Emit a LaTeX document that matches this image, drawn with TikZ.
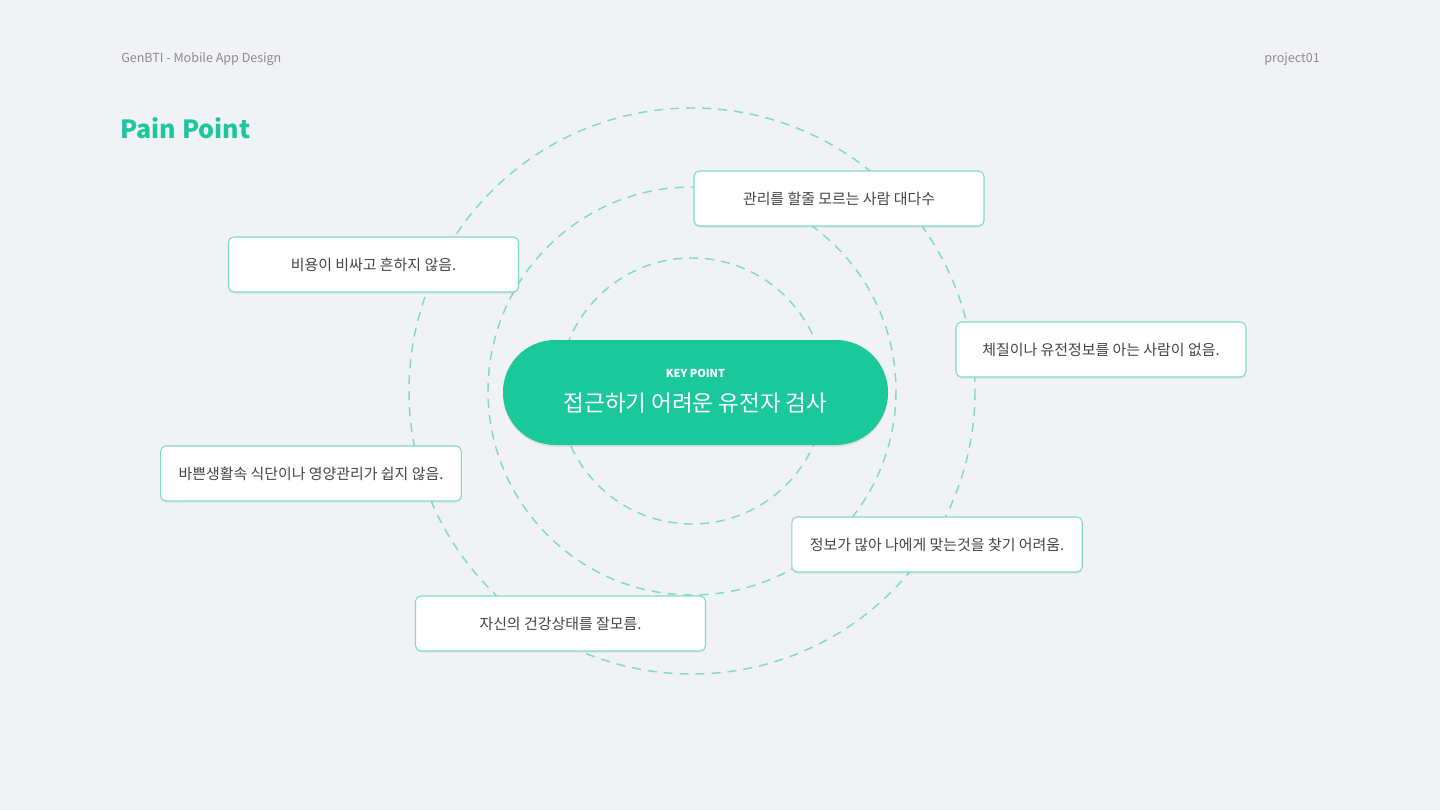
\documentclass[tikz,border=0pt]{standalone}
\usepackage{fontspec}
\setmainfont{Noto Sans CJK KR}
\usepackage{tikz}
\usetikzlibrary{shadows}

\definecolor{mint}{HTML}{1BC89B}
\definecolor{ringcol}{HTML}{7FDCC2}
\definecolor{bgcol}{HTML}{F1F2F6}
\definecolor{txtcol}{HTML}{444444}
\definecolor{subcol}{HTML}{8C8C8C}

\tikzset{
  painbox/.style={draw=ringcol, line width=0.8pt, fill=white, rounded corners=4pt,
    minimum width=217.5pt, minimum height=41.25pt, inner xsep=13.5pt,
    text=txtcol, font=\fontsize{11.2}{13}\selectfont,
    drop shadow={shadow xshift=0pt, shadow yshift=-1.2pt, opacity=0.06, fill=black}},
  ringline/.style={draw=ringcol, line width=1.1pt, dash pattern=on 6.75pt off 5.25pt},
}

\begin{document}
\begin{tikzpicture}[x=0.75pt,y=0.75pt,yscale=-1,xscale=1]
    %Background
    \fill[bgcol] (0,0) rectangle (1440,810);
    \useasboundingbox (0,0) rectangle (1440,810);

    \coordinate (mid) at (692,391);
    %Shape: Circle
    \draw [ringline] (mid) circle [radius=283];
    %Shape: Circle
    \draw [ringline] (mid) circle [radius=204];
    %Shape: Circle
    \draw [ringline] (mid) circle [radius=133];

    %Shape: Rounded Rect
    \node (keypt) at (695.5,392.5) [fill=mint, rounded corners=39pt, minimum width=288.75pt, minimum height=78.75pt,
      drop shadow={shadow xshift=0pt, shadow yshift=-1.5pt, opacity=0.07, fill=black}] {};
    % Text Node
    \node (keytag) at ([yshift=-14.6pt]keypt.center) [text=white, font=\fontsize{8.2}{10}\bfseries] {KEY POINT};
    % Text Node
    \node (keytxt) at ([yshift=8.2pt]keypt.center) [text=white, font=\fontsize{16.9}{20}\selectfont] {접근하기 어려운 유전자 검사};

    % Text Node
    \node (pp1) at (839,198.5) [painbox] {관리를 할줄 모르는 사람 대다수};
    % Text Node
    \node (pp2) at (373.5,264.5) [painbox] {비용이 비싸고 흔하지 않음.};
    % Text Node
    \node (pp3) at (1101,349.5) [painbox] {체질이나 유전정보를 아는 사람이 없음.};
    % Text Node
    \node (pp4) at (311,473.5) [painbox] {바쁜생활속 식단이나 영양관리가 쉽지 않음.};
    % Text Node
    \node (pp5) at (937,544.5) [painbox] {정보가 많아 나에게 맞는것을 찾기 어려움.};
    % Text Node
    \node (pp6) at (560.5,623.5) [painbox] {자신의 건강상태를 잘모름.};

    % Text Node
    \node (head) at (121,59.5) [anchor=west, inner sep=0pt, text=subcol, font=\fontsize{9.4}{11}\selectfont] {GenBTI - Mobile App Design};
    % Text Node
    \node (proj) at (1320,59.5) [anchor=east, inner sep=0pt, text=subcol, font=\fontsize{9.4}{11}\selectfont] {project01};
    % Text Node
    \node (title) at (120,128.5) [anchor=west, inner sep=0pt, text=mint, font=\fontsize{18.8}{22}\bfseries] {Pain Point};
\end{tikzpicture}
\end{document}
